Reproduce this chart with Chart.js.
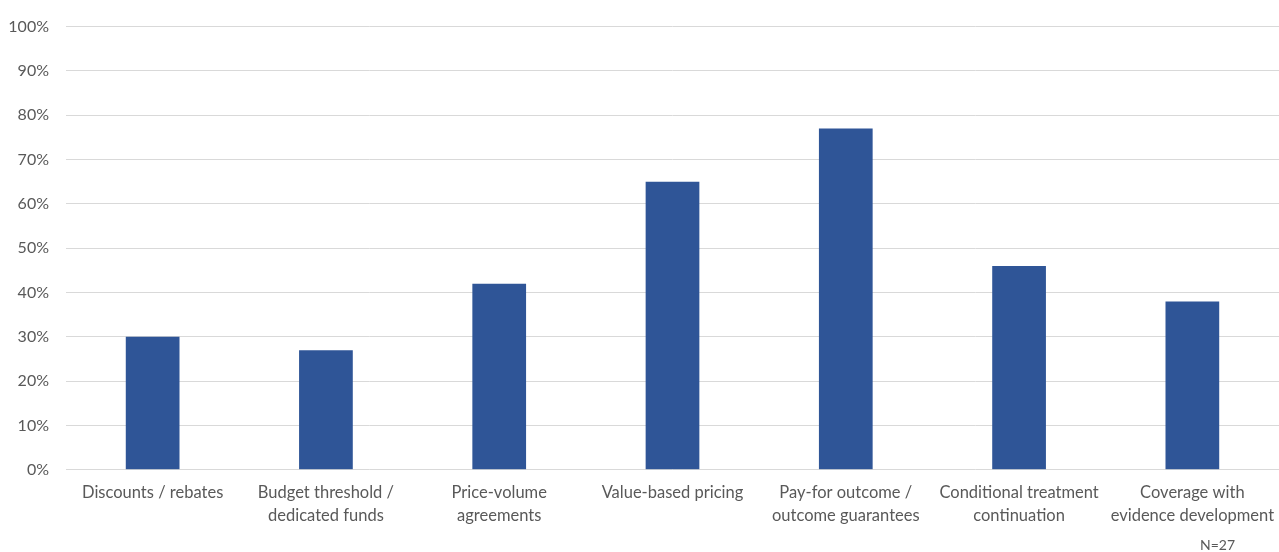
<!DOCTYPE html>
<html>
<head>
<meta charset="utf-8">
<script src="https://cdn.jsdelivr.net/npm/chart.js@4/dist/chart.umd.min.js"></script>
<style>
html,body{margin:0;padding:0;background:#fff;}
#wrap{position:relative;width:1279px;height:552px;}
#note{position:absolute;left:1200px;top:536px;font-family:Lato, "Open Sans", sans-serif;font-size:14px;color:#595959;}
</style>
</head>
<body>
<div id="wrap"><canvas id="c" width="1279" height="552"></canvas><div id="note">N=27</div></div>
<script>
const categories = [
  ["Discounts / rebates"],
  ["Budget threshold /", "dedicated funds"],
  ["Price-volume", "agreements"],
  ["Value-based pricing"],
  ["Pay-for outcome /", "outcome guarantees"],
  ["Conditional treatment", "continuation"],
  ["Coverage with", "evidence development"]
];
const values = [30, 27, 42, 65, 77, 46, 38];
const yTicks = [0, 10, 20, 30, 40, 50, 60, 70, 80, 90, 100];

new Chart(document.getElementById('c'), {
  type: 'bar',
  data: {
    labels: categories,
    datasets: [{
      data: values,
      backgroundColor: '#2F5597',
      borderWidth: 0,
      categoryPercentage: 1,
      barPercentage: 0.31
    }]
  },
  options: {
    responsive: false,
    animation: false,
    layout: { padding: { top: 18, right: 0, bottom: 22, left: 0 } },
    plugins: { legend: { display: false }, tooltip: { enabled: false } },
    scales: {
      x: {
        grid: { display: false },
        border: { display: false },
        ticks: { color: '#595959', font: { family: 'Lato', size: 16.5, lineHeight: 1.4 }, maxRotation: 0, autoSkip: false, padding: 3 }
      },
      y: {
        min: 0, max: 100,
        afterBuildTicks: (ax) => { ax.ticks = yTicks.map(v => ({ value: v })); },
        afterFit: (ax) => { ax.width = 66; },
        grid: { color: '#d9d9d9', lineWidth: 1, drawTicks: false },
        border: { display: false },
        ticks: { color: '#595959', font: { family: 'Lato', size: 16 }, padding: 17, callback: v => v + '%' }
      }
    }
  }
});
</script>
</body>
</html>
